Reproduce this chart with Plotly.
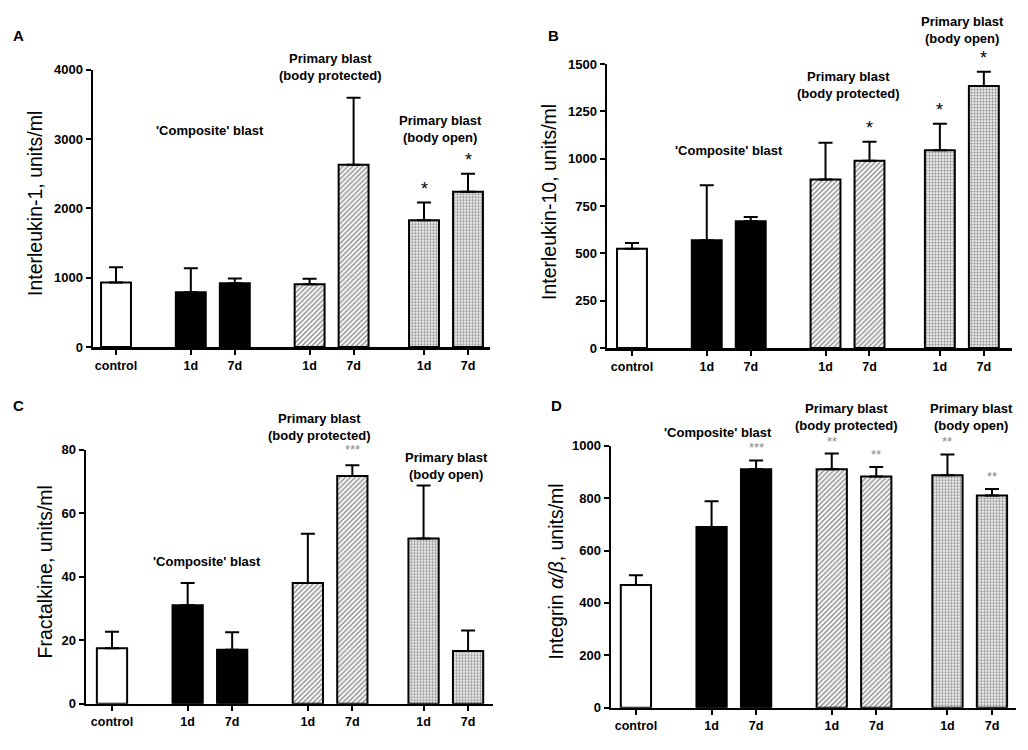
import plotly.graph_objects as go

W, H = 1028, 750

# ---- data ----
positions = [0, 1.7, 2.7, 4.4, 5.4, 7.0, 8.0]
tick_labels = ["control", "1d", "7d", "1d", "7d", "1d", "7d"]
groups = ["control", "composite", "composite", "protected", "protected", "open", "open"]

il1_mean = [930, 790, 920, 905, 2630, 1830, 2240]
il1_sem = [220, 345, 70, 80, 965, 255, 260]
il1_stars = ["", "", "", "", "", "*", "*"]

il10_mean = [525, 570, 670, 890, 990, 1045, 1385]
il10_sem = [30, 290, 22, 195, 100, 140, 75]
il10_stars = ["", "", "", "", "*", "*", "*"]

fkn_mean = [17.5, 31, 17, 38, 71.7, 52, 16.6]
fkn_sem = [5.2, 7, 5.5, 15.5, 3.4, 16.7, 6.5]
fkn_stars = ["", "", "", "", "***", "", ""]

itg_mean = [468, 690, 910, 910, 883, 887, 810]
itg_sem = [38, 98, 34, 60, 36, 80, 25]
itg_stars = ["", "", "***", "**", "**", "**", "**"]

# ---- styles ----
group_style = {
    "control": dict(color="white"),
    "composite": dict(color="black"),
    "protected": dict(color="white", pattern=dict(shape="/", fgcolor="#111111", bgcolor="white",
                                                   size=3.5, solidity=0.4, fillmode="overlay")),
    "open": dict(color="#a8a8a8", pattern=dict(shape=".", fgcolor="#303030", bgcolor="white",
                                               size=3, solidity=0.5, fillmode="overlay")),
}

FONT = "Liberation Sans, Arial, sans-serif"

panels = [
    dict(mean=il1_mean, sem=il1_sem, stars=il1_stars, ymax=4000, dtick=1000,
         px=(93, 490), py=(64, 347), xr=(-0.523, 8.5),
         title="Interleukin-1, units/ml", tpos=(35, 201), letter="A", lpos=(18, 29),
         star_size=18, star_color="black", star_shift=2,
         labels=[("'Composite' blast", 210, 126), ("Primary blast<br>(body protected)", 330, 61),
                 ("Primary blast<br>(body open)", 440, 125)]),
    dict(mean=il10_mean, sem=il10_sem, stars=il10_stars, ymax=1500, dtick=250,
         px=(607, 1012), py=(58.3, 348), xr=(-0.568, 8.64),
         title="Interleukin-10, units/ml", tpos=(549, 199), letter="B", lpos=(553, 29),
         star_size=18, star_color="black", star_shift=2,
         labels=[("'Composite' blast", 729, 146), ("Primary blast<br>(body protected)", 848, 80),
                 ("Primary blast<br>(body open)", 962, 23)]),
    dict(mean=fkn_mean, sem=fkn_sem, stars=fkn_stars, ymax=80, dtick=20,
         px=(86, 493), py=(451.7, 711), xr=(-0.584, 8.56),
         title="Fractalkine, units/ml", tpos=(45, 577), letter="C", lpos=(18, 407),
         star_size=13, star_color="#888888", star_shift=6,
         labels=[("'Composite' blast", 207, 566), ("Primary blast<br>(body protected)", 319, 429),
                 ("Primary blast<br>(body open)", 446, 468)]),
    dict(mean=itg_mean, sem=itg_sem, stars=itg_stars, ymax=1000, dtick=200,
         px=(611, 1016), py=(447.7, 715), xr=(-0.56, 8.54),
         title="Integrin <i>α/β</i>, units/ml", tpos=(556, 576), letter="D", lpos=(556, 407),
         star_size=13, star_color="#888888", star_shift=3,
         labels=[("'Composite' blast", 718, 434), ("Primary blast<br>(body protected)", 846, 418),
                 ("Primary blast<br>(body open)", 971, 418)]),
]

fig = go.Figure()
annotations = []
layout = dict(
    width=W, height=H, margin=dict(l=0, r=0, t=0, b=0),
    paper_bgcolor="white", plot_bgcolor="white", showlegend=False,
    font=dict(family=FONT, color="black"),
    barmode="overlay",
)

for i, p in enumerate(panels):
    n = i + 1
    xa = "x" if n == 1 else f"x{n}"
    ya = "y" if n == 1 else f"y{n}"
    for g in ["control", "composite", "protected", "open"]:
        idx = [k for k, gg in enumerate(groups) if gg == g]
        st = group_style[g]
        marker = dict(color=st["color"], line=dict(color="black", width=2))
        if "pattern" in st:
            marker["pattern"] = st["pattern"]
        fig.add_trace(go.Bar(
            x=[positions[k] for k in idx], y=[p["mean"][k] for k in idx], width=0.68,
            xaxis=xa, yaxis=ya, marker=marker,
            error_y=dict(type="data", symmetric=False, array=[p["sem"][k] for k in idx],
                         arrayminus=[0] * len(idx), color="black", thickness=2, width=7),
            hoverinfo="skip",
        ))
    x0, x1 = p["px"]
    y0, y1 = p["py"]
    layout["xaxis" if n == 1 else f"xaxis{n}"] = dict(
        domain=[x0 / W, x1 / W], range=list(p["xr"]), anchor=ya,
        tickmode="array", tickvals=positions, ticktext=tick_labels,
        showline=True, linecolor="black", linewidth=2.5,
        ticks="outside", ticklen=5, tickwidth=2, tickcolor="black",
        showgrid=False, zeroline=False,
        tickfont=dict(family=FONT, size=12.5, weight="bold", color="black"),
    )
    layout["yaxis" if n == 1 else f"yaxis{n}"] = dict(
        domain=[1 - y1 / H, 1 - y0 / H], range=[0, p["ymax"]], anchor=xa,
        dtick=p["dtick"], tick0=0,
        showline=True, linecolor="black", linewidth=2.5,
        ticks="outside", ticklen=5, tickwidth=2, tickcolor="black",
        showgrid=False, zeroline=False,
        tickfont=dict(family=FONT, size=13, weight="bold", color="black"),
    )
    annotations.append(dict(text=p["title"], x=p["tpos"][0] / W, y=1 - p["tpos"][1] / H,
                            xref="paper", yref="paper", textangle=-90, showarrow=False,
                            xanchor="center", yanchor="middle",
                            font=dict(family=FONT, size=19.5, color="black")))
    annotations.append(dict(text=f"<b>{p['letter']}</b>", x=p["lpos"][0] / W, y=1 - p["lpos"][1] / H,
                            xref="paper", yref="paper", showarrow=False,
                            xanchor="center", yanchor="middle",
                            font=dict(family=FONT, size=15, color="black")))
    for txt, lx, ly in p["labels"]:
        annotations.append(dict(text=txt, x=lx / W, y=1 - ly / H, xref="paper", yref="paper",
                                showarrow=False, xanchor="center", yanchor="middle",
                                font=dict(family=FONT, size=13, weight="bold", color="black")))
    for xpos, m, s, stt in zip(positions, p["mean"], p["sem"], p["stars"]):
        if stt:
            annotations.append(dict(text=stt, x=xpos, y=m + s, xref=xa, yref=ya,
                                    showarrow=False, xanchor="center", yanchor="bottom",
                                    yshift=p["star_shift"],
                                    font=dict(family=FONT, size=p["star_size"], color=p["star_color"])))

layout["annotations"] = annotations
fig.update_layout(**layout)
fig.write_html("out.html", config={"displayModeBar": False, "staticPlot": True},
               post_script="document.body.style.margin='0';document.body.style.padding='0';")
